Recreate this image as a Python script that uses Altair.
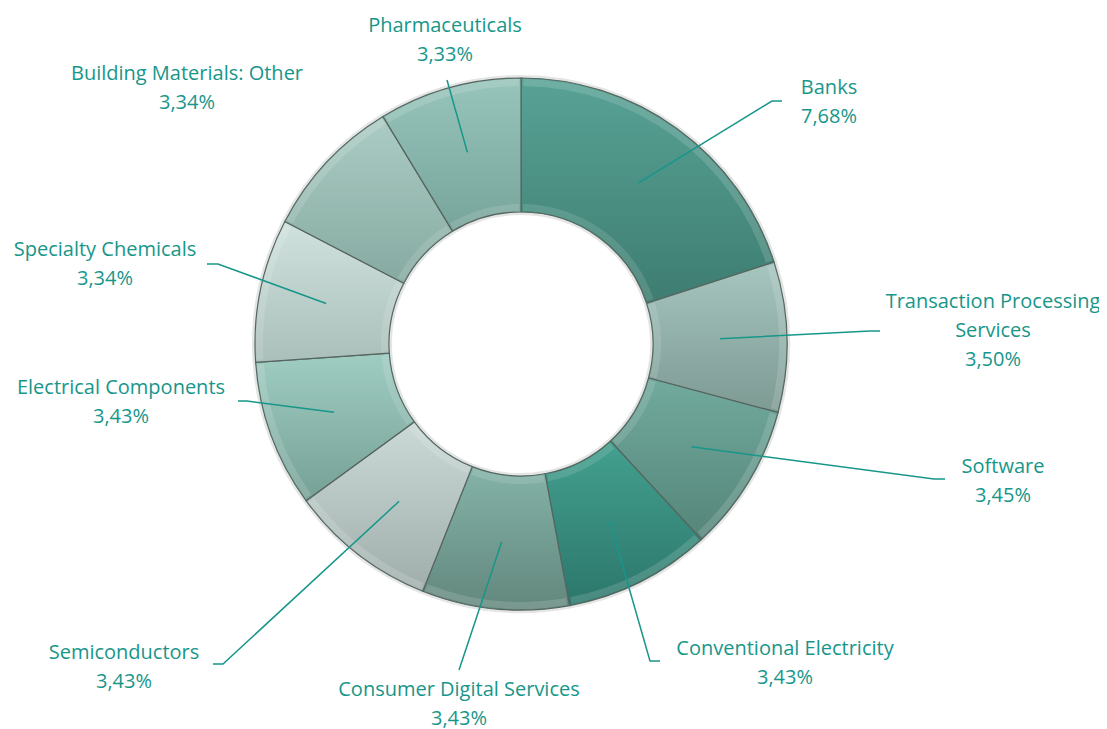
import math
import altair as alt
import pandas as pd

# ---- data ----
sectors = ["Banks", "Transaction Processing Services", "Software", "Conventional Electricity",
           "Consumer Digital Services", "Semiconductors", "Electrical Components",
           "Specialty Chemicals", "Building Materials: Other", "Pharmaceuticals"]
label_names = ["Banks", "Transaction Processing\nServices", "Software", "Conventional Electricity",
               "Consumer Digital Services", "Semiconductors", "Electrical Components",
               "Specialty Chemicals", "Building Materials: Other", "Pharmaceuticals"]
weights = [7.68, 3.50, 3.45, 3.43, 3.43, 3.43, 3.43, 3.34, 3.34, 3.33]
weight_labels = ["7,68%", "3,50%", "3,45%", "3,43%", "3,43%", "3,43%", "3,43%", "3,34%", "3,34%", "3,33%"]

# ---- styles (gradient top/bottom per slice) ----
fill_top = ["#58a295", "#a6c6bf", "#72aa9e", "#43a08f", "#84b3a8", "#ccdad7",
            "#a0cdc2", "#d0e2de", "#abccc4", "#98c5bb"]
fill_bottom = ["#3e7d71", "#7d9a93", "#558579", "#2c776b", "#63877d", "#a0aeab",
               "#75a095", "#aabfba", "#86aaa1", "#78a59b"]
TEXT = "#17968a"
LINE_H = 29

# ---- layout (pixels within the chart view) ----
W, H = 1091, 721
CX, CY = 513, 336          # pie centre
R_OUT, R_IN = 266, 132
R_MID = (R_OUT + R_IN) / 2
# label block centres and leader elbows/ends, relative to the pie centre (image y down)
label_pos = [(308, -242), (472, -13), (482, 137), (264, 319), (-62, 360), (-397, 323),
             (-400, 58), (-416, -80), (-334, -256), (-76, -304)]
leader_elbow = [(251, -243), (349, -13), (413, 135), (129, 317), (-62, 326), (-298, 320),
                (-274, 57), (-303, -80), None, (-74, -264)]
leader_end = [(261, -243), (359, -13), (424, 135), (139, 317), (-62, 326), (-308, 320),
              (-283, 57), (-314, -80), None, (-74, -264)]

total = sum(weights)
rows, lines = [], []
acc = 0.0
for i, (s, w) in enumerate(zip(sectors, weights)):
    t0 = acc / total * 2 * math.pi
    acc += w
    t1 = acc / total * 2 * math.pi
    mid = (t0 + t1) / 2
    lx, ly = label_pos[i]
    text = label_names[i] + "\n" + weight_labels[i]
    n = text.count("\n") + 1
    first_y = ly - (n - 1) * LINE_H / 2
    rows.append(dict(name=s, t0=t0, t1=t1, label=text, lx=lx, ly=-first_y))
    if leader_end[i] is not None:
        sx, sy = R_MID * math.sin(mid), R_MID * math.cos(mid)
        pts = [(sx, sy), (leader_elbow[i][0], -leader_elbow[i][1]), (leader_end[i][0], -leader_end[i][1])]
        for k, (px, py) in enumerate(pts):
            lines.append(dict(name=s, k=k, px=px, py=py))

df = pd.DataFrame(rows)
dl = pd.DataFrame(lines)

xs = alt.Scale(domain=[-CX, W - CX], nice=False, zero=False)
ys = alt.Scale(domain=[-(H - CY), CY], nice=False, zero=False)

theta_enc = dict(theta=alt.Theta("t0:Q", scale=None), theta2="t1:Q",
                 x=alt.value(CX), y=alt.value(CY))

# soft shadow behind ring
shadow = alt.Chart(df).mark_arc(outerRadius=R_OUT + 3, innerRadius=R_IN - 3,
                                fill="#9aa5a3", opacity=0.28).encode(**theta_enc)

arcs = []
for i, s in enumerate(sectors):
    grad = alt.Gradient(gradient="linear",
                        stops=[alt.GradientStop(color=fill_top[i], offset=0),
                               alt.GradientStop(color=fill_bottom[i], offset=1)],
                        x1=0, x2=0, y1=0, y2=1)
    arcs.append(
        alt.Chart(df).transform_filter(alt.datum.name == s)
        .mark_arc(outerRadius=R_OUT, innerRadius=R_IN, fill=grad, stroke="#56655f",
                  strokeWidth=1.2)
        .encode(**theta_enc)
    )

# bevel highlights along outer and inner rims
bevel_out = alt.Chart(df).mark_arc(outerRadius=R_OUT - 1, innerRadius=R_OUT - 8,
                                   fill="white", opacity=0.14, padAngle=0.012).encode(**theta_enc)
bevel_in = alt.Chart(df).mark_arc(outerRadius=R_IN + 8, innerRadius=R_IN + 1,
                                  fill="white", opacity=0.12, padAngle=0.02).encode(**theta_enc)

leaders = alt.Chart(dl).mark_line(color=TEXT, strokeWidth=1.5).encode(
    x=alt.X("px:Q", scale=xs, axis=None),
    y=alt.Y("py:Q", scale=ys, axis=None),
    detail="name:N",
    order="k:Q",
)

labels = alt.Chart(df).mark_text(
    font="Open Sans", fontSize=20, color=TEXT, align="center", baseline="middle",
    lineBreak="\n", lineHeight=LINE_H,
).encode(
    x=alt.X("lx:Q", scale=xs, axis=None),
    y=alt.Y("ly:Q", scale=ys, axis=None),
    text="label:N",
)

chart = alt.layer(shadow, *arcs, bevel_out, bevel_in, leaders, labels).properties(
    width=W, height=H, autosize=alt.AutoSizeParams(type="none"), padding=0,
).configure_view(stroke=None)

chart.save("out.html", embed_options={"renderer": "svg", "actions": False})
